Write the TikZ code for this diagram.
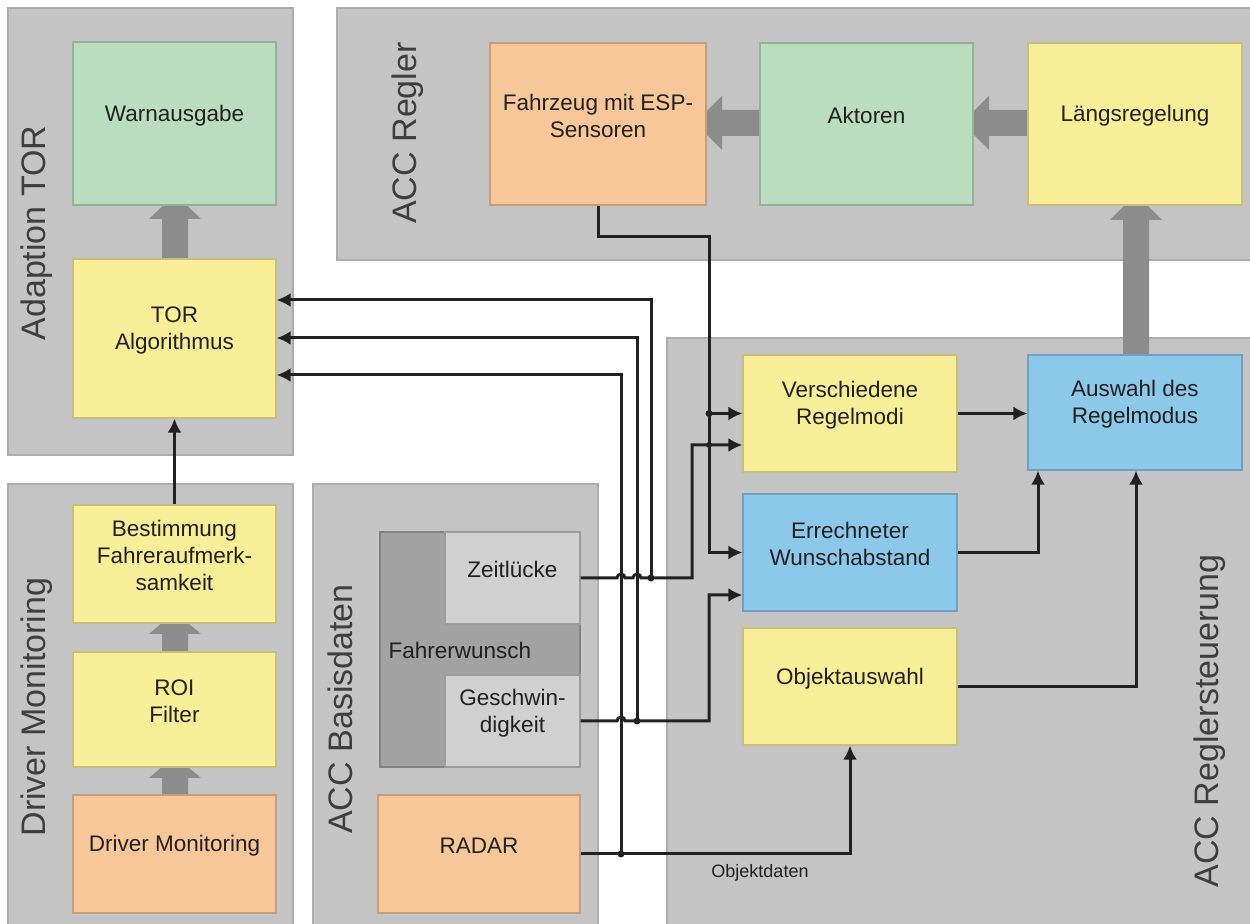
\documentclass[tikz,border=0pt]{standalone}
\usepackage{fontspec}
\setmainfont{Liberation Sans}
\usetikzlibrary{arrows.meta,fit,calc}

\definecolor{panelfill}{RGB}{196,196,196}
\definecolor{paneledge}{RGB}{172,172,172}
\definecolor{cyellow}{RGB}{248,238,152}
\definecolor{cgreen}{RGB}{186,221,190}
\definecolor{corange}{RGB}{248,199,153}
\definecolor{cblue}{RGB}{140,200,234}
\definecolor{clight}{RGB}{208,208,208}
\definecolor{cdark}{RGB}{162,162,162}
\definecolor{bigarrow}{RGB}{140,140,140}
\definecolor{ink}{RGB}{34,32,32}
\definecolor{labelink}{RGB}{62,62,62}

% wide grey flow arrows: upward and leftward
\newcommand\blockup[4]{% cx, y of shaft start, y of head base, y of tip
  \fill[bigarrow] ({#1-13},#2) -- ({#1-13},#3) -- ({#1-26},#3) -- (#1,#4)
    -- ({#1+26},#3) -- ({#1+13},#3) -- ({#1+13},#2) -- cycle;}
\newcommand\blockleft[4]{% cy, x of shaft start, x of head base, x of tip
  \fill[bigarrow] (#2,{#1-13}) -- (#3,{#1-13}) -- (#3,{#1-27}) -- (#4,#1)
    -- (#3,{#1+27}) -- (#3,{#1+13}) -- (#2,{#1+13}) -- cycle;}

\begin{document}
\begin{tikzpicture}[x=0.5pt,y=-0.5pt,
  panel/.style={fill=panelfill,draw=paneledge,line width=0.8pt,inner sep=0pt},
  plabel/.style={rotate=90,text=labelink,font=\fontsize{17}{20}\selectfont,inner sep=0pt},
  box/.style={inner sep=0pt,line width=0.6pt,text=ink,align=center,
    font=\fontsize{11.25}{13.5}\selectfont},
  yel/.style={box,fill=cyellow,draw=cyellow!80!black},
  grn/.style={box,fill=cgreen,draw=cgreen!80!black},
  org/.style={box,fill=corange,draw=corange!80!black},
  blu/.style={box,fill=cblue,draw=cblue!80!black},
  lgr/.style={box,fill=clight,draw=clight!75!black},
  dgr/.style={box,fill=cdark,draw=cdark!80!black},
  wire/.style={draw=ink,line width=1.5pt},
  tip/.style={-{Latex[length=7pt,width=7pt]}},
  junction/.style={fill=ink}]

% canvas
\fill[white] (0,0) rectangle (1250,924);
\useasboundingbox (0,0) rectangle (1250,924);

% group panels
\node[panel, fit={(8,8) (293,455)}] (pTOR) {};
\node[panel, fit={(337,8) (1254,260)}] (pReg) {};
\node[panel, fit={(667,338) (1254,928)}] (pStr) {};
\node[panel, fit={(8,484) (293,928)}] (pDM) {};
\node[panel, fit={(313,484) (598,928)}] (pBas) {};

\node[plabel] (lTOR) at (37,233) {Adaption TOR};
\node[plabel] (lReg) at (408,133) {ACC Regler};
\node[plabel] (lDM)  at (37,707) {Driver Monitoring};
\node[plabel] (lBas) at (340,709) {ACC Basisdaten};
\node[plabel] (lStr) at (1210,721) {ACC Reglersteuerung};

% grey flow arrows (drawn below the boxes)
\blockup{175}{262}{219}{194}
\blockup{175}{655}{634}{612}
\blockup{175}{798}{778}{756}
\blockup{1136}{358}{220}{194}
\blockleft{123}{763}{722}{695}
\blockleft{123}{1031}{989}{962}

% Adaption TOR
\node[grn, fit={(73,42) (276,205)}] (warn) {Warnausgabe};
\node[yel, fit={(73,259) (276,418)}] (tor) {TOR\\Algorithmus};

% Driver Monitoring
\node[yel, fit={(73,505) (276,623)}] (best) {Bestimmung\\Fahreraufmerk-\\samkeit};
\node[yel, fit={(73,652) (276,767)}] (roi) {ROI\\Filter};
\node[org, fit={(73,795) (276,913)}] (dm) {Driver Monitoring};

% ACC Basisdaten
\node[dgr, fit={(380,532) (580,767)}] (fw) {};
\node[lgr, fit={(445,532) (580,624)}] (zl) {Zeitlücke};
\node[lgr, fit={(445,675) (580,767)}] (ge) {Geschwin-\\digkeit};
\node[box, anchor=west] (fwl) at (388,650) {Fahrerwunsch};
\node[org, fit={(378,795) (580,913)}] (radar) {RADAR};

% ACC Regler
\node[org, fit={(490,43) (706,205)}] (fz) {Fahrzeug mit ESP-\\Sensoren};
\node[grn, fit={(760,43) (973,205)}] (ak) {Aktoren};
\node[yel, fit={(1028,43) (1242,205)}] (lr) {Längsregelung};

% ACC Reglersteuerung
\node[yel, fit={(743,355) (957,472)}] (vr) {Verschiedene\\Regelmodi};
\node[blu, fit={(1028,355) (1242,470)}] (aw) {Auswahl des\\Regelmodus};
\node[blu, fit={(743,494) (957,611)}] (ew) {Errechneter\\Wunschabstand};
\node[yel, fit={(743,628) (957,745)}] (ob) {Objektauswahl};

% bus columns and rows of the signal wiring
\coordinate (cA) at (621,0);
\coordinate (cB) at (637,0);
\coordinate (cC) at (651,0);
\coordinate (cD) at (692,0);
\coordinate (cE) at (709,0);
\coordinate (cF) at (1038,0);
\coordinate (cG) at (1136,0);
\coordinate (r237) at (0,237);
\coordinate (r300) at (0,300);
\coordinate (r338) at (0,338);
\coordinate (r375) at (0,375);
\coordinate (r445) at (0,445);
\coordinate (r595) at (0,595);

% Zeitluecke -> Verschiedene Regelmodi (hops over two risers)
\draw[wire,tip] (zl.east) -- ($(zl.east -| cA)+(-4,0)$)
  arc[start angle=180,end angle=360,radius=4]
  -- ($(zl.east -| cB)+(-4,0)$)
  arc[start angle=180,end angle=360,radius=4]
  -- (zl.east -| cD) -- (cD |- r445) -- (vr.west |- r445);
% Geschwindigkeit -> Errechneter Wunschabstand
\draw[wire,tip] (ge.east) -- ($(ge.east -| cA)+(-4,0)$)
  arc[start angle=180,end angle=360,radius=4]
  -- (ge.east -| cE) -- (cE |- r595) -- (ew.west |- r595);
% RADAR -> Objektauswahl
\draw[wire,tip] (radar.east) -- (radar.east -| ob.south) -- (ob.south);
\node[font=\fontsize{9}{11}\selectfont, text=ink] (objd) at (760,873) {Objektdaten};

% signals to the TOR algorithm
\draw[wire,tip] (zl.east -| cC) -- (cC |- r300) -- (tor.east |- r300);
\draw[wire,tip] (ge.east -| cB) -- (cB |- r338) -- (tor.east |- r338);
\draw[wire,tip] (radar.east -| cA) -- (cA |- r375) -- (tor.east |- r375);
\fill[junction] (zl.east -| cC) circle[radius=3.5];
\fill[junction] (ge.east -| cB) circle[radius=3.5];
\fill[junction] (radar.east -| cA) circle[radius=3.5];

% vehicle feedback
\draw[wire,tip] (fz.south) -- (fz.south |- r237) -- (cE |- r237) -- (cE |- ew.west) -- (ew.west);
\draw[wire,tip] (cE |- vr.west) -- (vr.west);
\fill[junction] (cE |- vr.west) circle[radius=3.5];
\fill[junction] (cE |- r445) circle[radius=3];

% mode selection
\draw[wire,tip] (vr.east) -- (vr.east -| aw.west);
\draw[wire,tip] (ew.east) -- (ew.east -| cF) -- (cF |- aw.south);
\draw[wire,tip] (ob.east) -- (ob.east -| cG) -- (cG |- aw.south);

% driver attention -> TOR
\draw[wire,tip] (best.north) -- (tor.south);

\end{tikzpicture}
\end{document}
